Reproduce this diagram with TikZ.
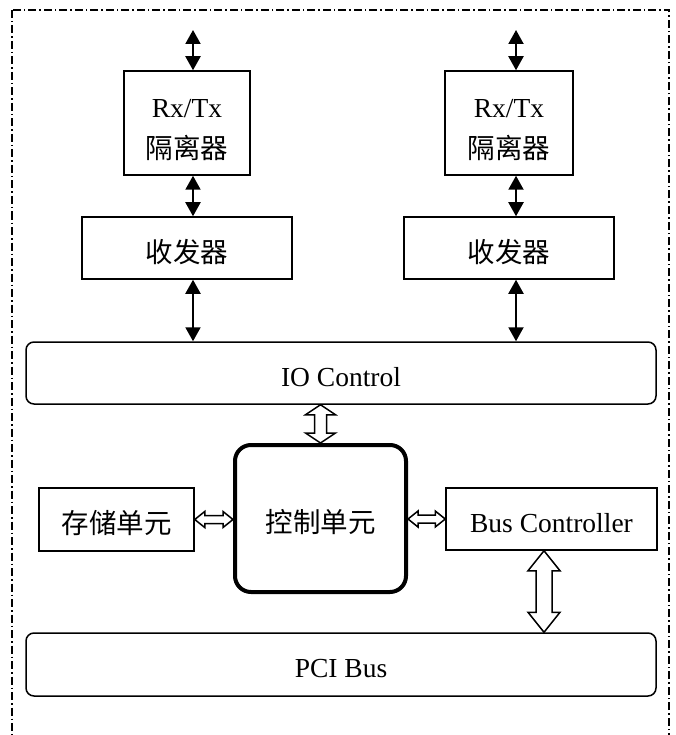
\documentclass[tikz,border=0pt]{standalone}
\usepackage{fontspec}
\setmainfont{Liberation Serif}
\newfontfamily\cjk{Noto Sans CJK SC}
\usetikzlibrary{arrows.meta,calc}
\tikzset{
  box/.style={draw, line width=1.5pt, rectangle, inner sep=0pt, align=center, text height=26pt, text depth=0pt},
  rbox/.style={box, rounded corners=8pt},
  cbox/.style={draw, line width=4pt, rectangle, rounded corners=16pt, inner sep=0pt, align=center, text height=28pt, text depth=0pt},
  mbox/.style={draw, line width=1.5pt, rectangle, inner sep=0pt},
  dbl/.style={line width=2pt, {Triangle[length=14pt,width=15pt]}-{Triangle[length=14pt,width=15pt]}},
  blockarrow/.style={draw, line width=1.5pt, fill=white, line join=miter},
  frame/.style={line width=1.3pt, dash pattern=on 8pt off 3pt on 1.5pt off 3pt},
}
% vertical hollow double arrow: #1 top, #2 bottom, #3 half head width, #4 half shaft width, #5 head length
\newcommand\VBlock[5]{%
  \draw[blockarrow] let \p1=(#1), \p2=(#2) in
    (\x1,\y1) -- (\x1+#3,\y1-#5) -- (\x1+#4,\y1-#5) -- (\x1+#4,\y2+#5) -- (\x1+#3,\y2+#5)
    -- (\x1,\y2) -- (\x1-#3,\y2+#5) -- (\x1-#4,\y2+#5) -- (\x1-#4,\y1-#5) -- (\x1-#3,\y1-#5) -- cycle;}
% horizontal hollow double arrow: #1 left, #2 right
\newcommand\HBlock[5]{%
  \draw[blockarrow] let \p1=(#1), \p2=(#2) in
    (\x1,\y1) -- (\x1+#5,\y1+#3) -- (\x1+#5,\y1+#4) -- (\x2-#5,\y1+#4) -- (\x2-#5,\y1+#3)
    -- (\x2,\y1) -- (\x2-#5,\y1-#3) -- (\x2-#5,\y1-#4) -- (\x1+#5,\y1-#4) -- (\x1+#5,\y1-#3) -- cycle;}
\newcommand\RxTx{\raisebox{-6.5pt}[\height][\depth]{\begin{tabular}{@{}c@{}}Rx/Tx\\{\cjk 隔离器}\end{tabular}}}
\begin{document}
\begin{tikzpicture}[x=1pt,y=-1pt, font=\fontsize{27.5}{41}\selectfont]
\useasboundingbox (0,0) rectangle (676,735);
\begin{scope}
\clip (0,0) rectangle (676,735);
\draw[frame] (12,10) rectangle (669,760);
\end{scope}

% left column
\node[mbox, minimum width=126pt, minimum height=104pt] (rx1) at (187,123) {\RxTx};
\node[box, text height=28pt, minimum width=210pt, minimum height=62pt] (tr1) at (187,248) {\cjk 收发器};
% right column
\node[mbox, minimum width=128pt, minimum height=104pt] (rx2) at (509,123) {\RxTx};
\node[box, text height=28pt, minimum width=210pt, minimum height=62pt] (tr2) at (509,248) {\cjk 收发器};

\node[rbox, minimum width=630pt, minimum height=62pt] (io) at (341,373) {IO Control};
\node[cbox, minimum width=171pt, minimum height=147pt] (ctrl) at (320.5,518.5) {\cjk 控制单元};
\node[box, text height=28pt, minimum width=155pt, minimum height=63pt] (mem) at (116.5,519.5) {\cjk 存储单元};
\node[box, minimum width=211pt, minimum height=62pt] (bc) at (551.5,519) {Bus Controller};
\node[rbox, minimum width=630pt, minimum height=63pt] (pci) at (341,664.5) {PCI Bus};

\coordinate (in1) at (193,30);
\coordinate (in2) at (516,30);

\draw[dbl] (in1) -- (in1 |- rx1.north);
\draw[dbl] (in1 |- rx1.south) -- (in1 |- tr1.north);
\draw[dbl] (in1 |- tr1.south) -- (in1 |- io.north);
\draw[dbl] (in2) -- (in2 |- rx2.north);
\draw[dbl] (in2 |- rx2.south) -- (in2 |- tr2.north);
\draw[dbl] (in2 |- tr2.south) -- (in2 |- io.north);

\coordinate (bcx) at ([xshift=-7.5pt]bc.south);
\VBlock{io.south -| ctrl.north}{ctrl.north}{15pt}{6pt}{10pt}
\HBlock{mem.east}{ctrl.west |- mem.east}{8pt}{4pt}{10pt}
\HBlock{ctrl.east |- bc.west}{bc.west}{8pt}{4pt}{10pt}
\VBlock{bcx}{pci.north -| bcx}{16pt}{8pt}{20pt}
\end{tikzpicture}
\end{document}
